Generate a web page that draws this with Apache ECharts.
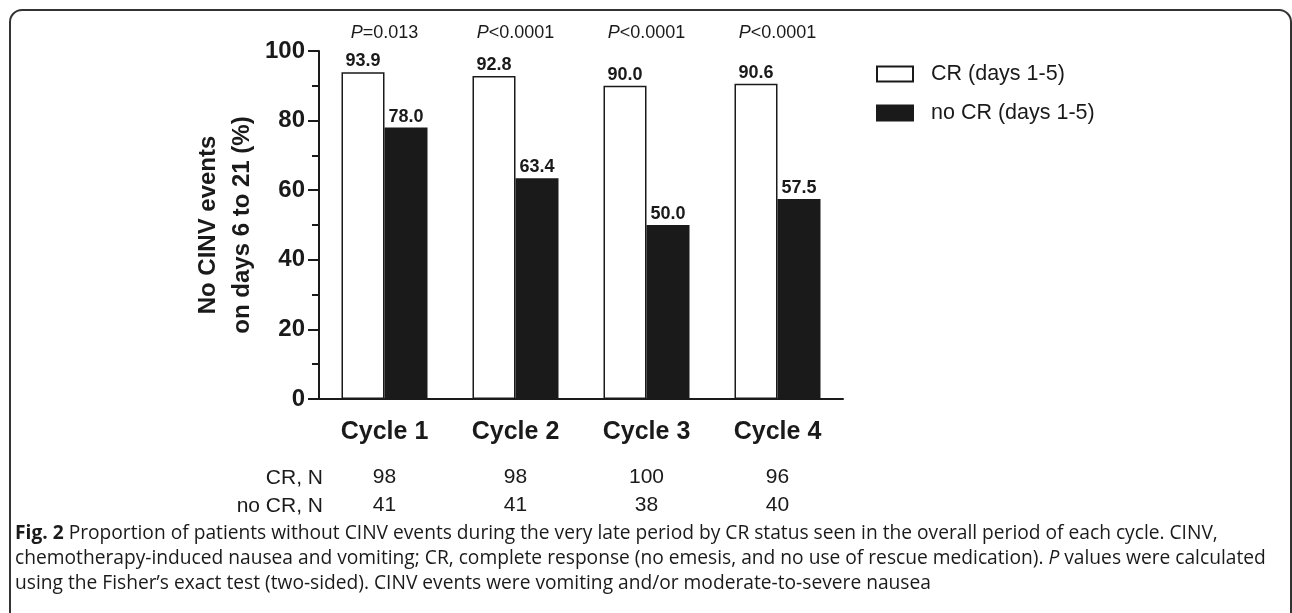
<!DOCTYPE html>
<html>
<head>
<meta charset="utf-8">
<script src="https://cdn.jsdelivr.net/npm/echarts@6/dist/echarts.min.js"></script>
<style>
html,body{margin:0;padding:0;background:#fff;}
#chart{width:1292px;height:613px;}
</style>
</head>
<body>
<div id="chart"></div>
<script>
const categories = ['Cycle 1', 'Cycle 2', 'Cycle 3', 'Cycle 4'];
const crValues = [93.9, 92.8, 90.0, 90.6];
const noCrValues = [78.0, 63.4, 50.0, 57.5];
const pValues = ['P=0.013', 'P<0.0001', 'P<0.0001', 'P<0.0001'];
const crN = ['98', '98', '100', '96'];
const noCrN = ['41', '41', '38', '40'];
const seriesNames = ['CR (days 1-5)', 'no CR (days 1-5)'];
const yAxisTitle = 'No CINV events\non days 6 to 21 (%)';
const rowLabels = ['CR, N', 'no CR, N'];
const captionLines = [
  '{b|Fig. 2} Proportion of patients without CINV events during the very late period by CR status seen in the overall period of each cycle. CINV,',
  'chemotherapy-induced nausea and vomiting; CR, complete response (no emesis, and no use of rescue medication). {i|P} values were calculated',
  'using the Fisher\u2019s exact test (two-sided). CINV events were vomiting and/or moderate-to-severe nausea'
];

const ink = '#1a1a1a';
const font = 'Arial, "Liberation Sans", sans-serif';
const capFont = '"Open Sans", sans-serif';
const capSize = 19.2;
const chart = echarts.init(document.getElementById('chart'), null, {renderer: 'canvas'});

const barLabel = {
  show: true, position: 'top', distance: 2,
  fontFamily: font, fontSize: 18, fontWeight: 'bold', color: ink,
  formatter: p => Number(p.value).toFixed(1)
};

chart.setOption({
  animation: false,
  backgroundColor: '#fff',
  grid: {left: 319, right: 449, top: 51, bottom: 214, containLabel: false},
  legend: {
    orient: 'vertical', left: 876, top: 63, padding: 0,
    itemWidth: 36, itemHeight: 15, itemGap: 17,
    icon: 'rect',
    textStyle: {fontFamily: font, fontSize: 21.5, color: ink, padding: [0, 0, 0, 13]},
    data: seriesNames
  },
  xAxis: [
    {
      type: 'category', data: categories, position: 'bottom',
      axisLine: {show: true, lineStyle: {color: ink, width: 2}},
      axisTick: {show: false},
      axisLabel: {fontFamily: font, fontSize: 25, fontWeight: 'bold', color: ink, margin: 21}
    },
    {
      type: 'category', data: pValues, position: 'top',
      axisLine: {show: false}, axisTick: {show: false},
      axisLabel: {
        margin: 9,
        formatter: v => '{i|' + v.charAt(0) + '}{n|' + v.slice(1) + '}',
        rich: {
          i: {fontFamily: font, fontSize: 18, fontStyle: 'italic', color: ink},
          n: {fontFamily: font, fontSize: 18, color: ink}
        }
      }
    },
    {
      type: 'category', data: crN, position: 'bottom', offset: 60,
      axisLine: {show: false}, axisTick: {show: false},
      axisLabel: {fontFamily: font, fontSize: 21, color: ink, margin: 8}
    },
    {
      type: 'category', data: noCrN, position: 'bottom', offset: 88,
      axisLine: {show: false}, axisTick: {show: false},
      axisLabel: {fontFamily: font, fontSize: 21, color: ink, margin: 8}
    }
  ],
  yAxis: {
    type: 'value', min: 0, max: 100, interval: 20,
    name: yAxisTitle, nameLocation: 'middle', nameGap: 60,
    nameTextStyle: {fontFamily: font, fontSize: 24, fontWeight: 'bold', color: ink, lineHeight: 34},
    axisLine: {show: true, lineStyle: {color: ink, width: 2}},
    axisTick: {show: true, length: 11, lineStyle: {color: ink, width: 2}},
    minorTick: {show: true, splitNumber: 2, length: 7, lineStyle: {color: ink, width: 2}},
    splitLine: {show: false},
    minorSplitLine: {show: false},
    axisLabel: {fontFamily: font, fontSize: 24, fontWeight: 'bold', color: ink, margin: 14}
  },
  series: [
    {
      name: seriesNames[0], type: 'bar', data: crValues, xAxisIndex: 0,
      barWidth: 43, barGap: '0%',
      itemStyle: {color: '#ffffff', borderColor: ink, borderWidth: 1.5},
      label: barLabel
    },
    {
      name: seriesNames[1], type: 'bar', data: noCrValues, xAxisIndex: 0,
      barWidth: 43, barGap: '0%',
      itemStyle: {color: ink, borderColor: ink, borderWidth: 1.5},
      label: barLabel
    }
  ],
  graphic: [
    {
      type: 'rect', silent: true,
      shape: {x: 10, y: 10, width: 1281, height: 640, r: 12},
      style: {fill: 'none', stroke: '#333', lineWidth: 2}
    },
    {
      type: 'text', x: 323, y: 478,
      style: {text: rowLabels[0], fontFamily: font, fontSize: 21, fill: ink, align: 'right', verticalAlign: 'middle'}
    },
    {
      type: 'text', x: 323, y: 506,
      style: {text: rowLabels[1], fontFamily: font, fontSize: 21, fill: ink, align: 'right', verticalAlign: 'middle'}
    },
    {
      type: 'text', x: 15, y: 521,
      style: {
        text: captionLines.join('\n'),
        fontFamily: capFont, fontSize: capSize, lineHeight: 25, fill: ink,
        rich: {
          b: {fontFamily: capFont, fontSize: capSize, fontWeight: 'bold', fill: ink, lineHeight: 25},
          i: {fontFamily: capFont, fontSize: capSize, fontStyle: 'italic', fill: ink, lineHeight: 25}
        }
      }
    }
  ]
});
</script>
</body>
</html>
